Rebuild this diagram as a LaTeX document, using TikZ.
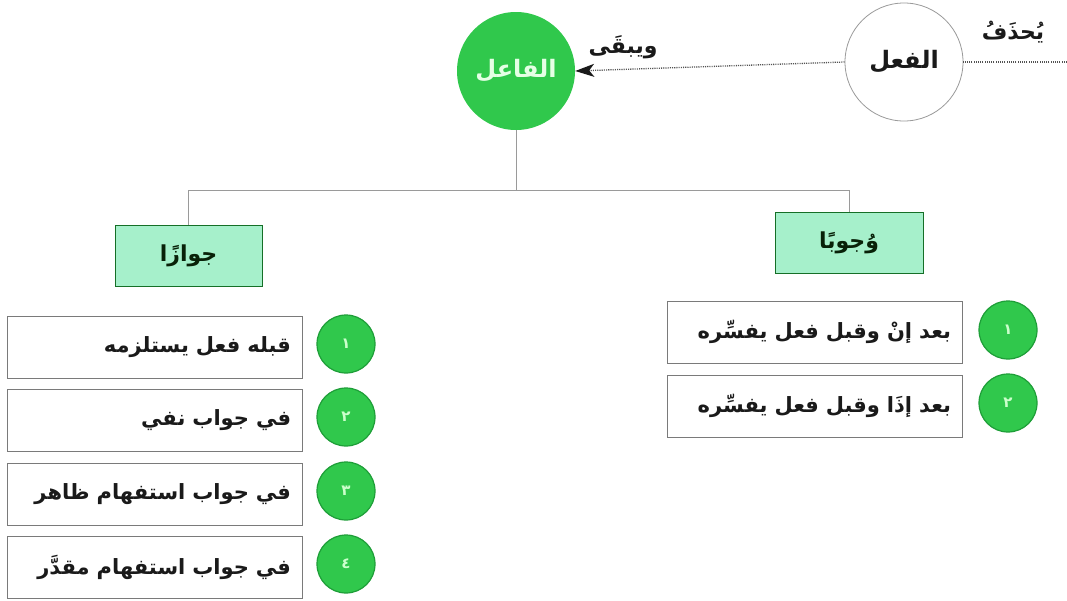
\documentclass[tikz,border=0pt]{standalone}
\usepackage{fontspec}
\setmainfont{DejaVu Sans}
\newfontfamily\arabicfont[Script=Arabic]{DejaVu Sans}
\TeXXeTstate=1
\usetikzlibrary{arrows.meta}
\definecolor{gfill}{HTML}{30C84C}
\definecolor{gedge}{HTML}{1E9E38}
\definecolor{mint}{HTML}{A6F0CB}
\definecolor{lineg}{HTML}{9A9A9A}
\definecolor{boxedge}{HTML}{7A7A7A}
\definecolor{txt}{HTML}{1A1A1A}
\newcommand{\ar}[1]{{\arabicfont\beginR #1\endR}}
\begin{document}
\begin{tikzpicture}[x=1pt,y=-1pt,
  bigcirc/.style={circle,minimum size=118pt,inner sep=0pt},
  headbox/.style={rectangle,draw=gedge!70!black,fill=mint,line width=0.6pt,minimum height=61pt,inner sep=0pt,font=\fontsize{22}{26}\selectfont\bfseries,text=txt!75!green!40!black},
  itembox/.style={rectangle,draw=boxedge,fill=white,line width=0.7pt,minimum width=295pt,minimum height=62pt,text width=273pt,align=right,inner xsep=11pt,inner ysep=0pt,font=\fontsize{21}{25}\selectfont\bfseries,text=txt},
  numcirc/.style={circle,fill=gfill,draw=gedge,line width=1.2pt,minimum size=58pt,inner sep=0pt,text=white!80!green,font=\fontsize{15}{17}\selectfont\bfseries},
  tree/.style={draw=lineg,line width=0.7pt},
  dots/.style={dash pattern=on 1.1pt off 1.1pt,line width=1.3pt,draw=txt!75}
]
\useasboundingbox[fill=white] (0,0) rectangle (1067,600);

% top circles
\node[bigcirc,fill=gfill,text=white!90!green,font=\fontsize{24}{28}\selectfont\bfseries] (faael) at (516,71) {\ar{الفاعل}};
\node[bigcirc,draw=lineg,line width=0.8pt,fill=white,text=txt,font=\fontsize{24}{28}\selectfont\bfseries] (fel) at (904,62) {\ar{الفعل}};
\coordinate (redge) at (1067,62);

\node[font=\fontsize{22}{26}\selectfont\bfseries,text=txt] (yuhdhaf) at (1013,32) {\ar{يُحذَفُ}};
\node[font=\fontsize{22}{26}\selectfont\bfseries,text=txt] (yabqa) at (623,47) {\ar{ويبقَى}};

\draw[dots] (redge) -- (fel.east);
\draw[dots,-{Stealth[length=19pt,width=13pt,inset=5pt,color=txt,fill=txt]}] (fel.west) -- (faael.east);

% heads
\node[headbox,minimum width=147pt] (jawazan) at (188.5,256) {\ar{جوازًا}};
\node[headbox,minimum width=148pt] (wujuban) at (849,242.5) {\ar{وُجوبًا}};

\coordinate (tl) at (jawazan.north |- 0,190);
\coordinate (tr) at (wujuban.north |- 0,190);
\coordinate (tm) at (faael.south |- 0,190);
\draw[tree] (faael.south) -- (tm);
\draw[tree] (tl) -- (tr);
\draw[tree] (tl) -- (jawazan.north);
\draw[tree] (tr) -- (wujuban.north);

% left items
\node[itembox] (l1) at (154.5,347) {\ar{قبله فعل يستلزمه}};
\node[itembox] (l2) at (154.5,420) {\ar{في جواب نفي}};
\node[itembox] (l3) at (154.5,494) {\ar{في جواب استفهام ظاهر}};
\node[itembox] (l4) at (154.5,567) {\ar{في جواب استفهام مقدَّر}};
\node[numcirc] (n1) at (346,344) {١};
\node[numcirc] (n2) at (346,417) {٢};
\node[numcirc] (n3) at (346,491) {٣};
\node[numcirc] (n4) at (346,564) {٤};

% right items
\node[itembox] (r1) at (814.5,332) {\ar{بعد إنْ وقبل فعل يفسِّره}};
\node[itembox] (r2) at (814.5,406) {\ar{بعد إذَا وقبل فعل يفسِّره}};
\node[numcirc] (m1) at (1008,330) {١};
\node[numcirc] (m2) at (1008,403) {٢};
\end{tikzpicture}
\end{document}
